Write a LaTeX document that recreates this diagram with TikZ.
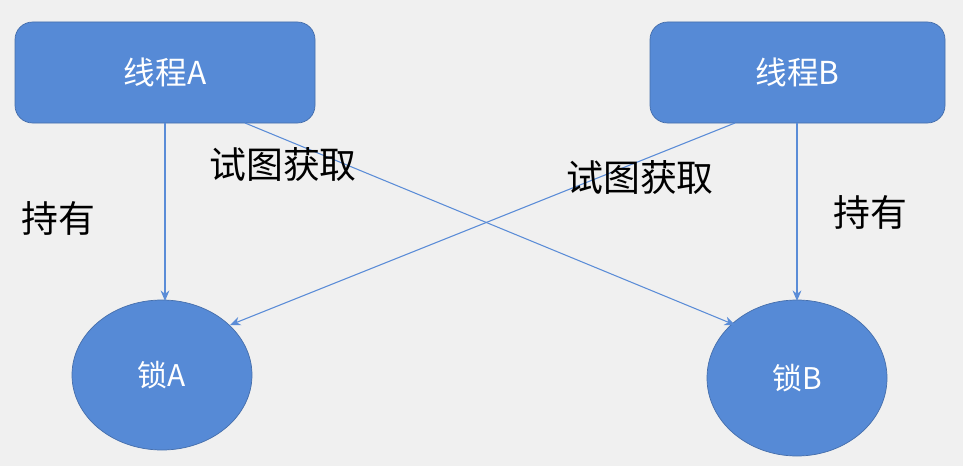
\documentclass[tikz,border=0pt]{standalone}
\usepackage{fontspec}
\usetikzlibrary{shapes.geometric,arrows.meta}
\newfontfamily\cjk{Noto Sans CJK SC}
\definecolor{bx}{RGB}{86,138,214}
\definecolor{bg}{RGB}{240,240,240}
\definecolor{ln}{RGB}{90,140,215}
\begin{document}
\begin{tikzpicture}[x=0.02cm,y=-0.02cm,
  box/.style={draw=bx!80!black,fill=bx,rounded corners=10pt,text=white,font=\cjk\fontsize{18}{21}\selectfont,inner sep=0pt},
  lock/.style={ellipse,draw=bx!80!black,fill=bx,text=white,font=\cjk\fontsize{17}{20}\selectfont,inner sep=0pt},
  lbl/.style={font=\cjk\fontsize{21}{24}\selectfont,text=black},
  arr/.style={draw=ln,-{Stealth[length=6pt,width=5pt]},line width=0.6pt}]
\fill[bg] (0,0) rectangle (963,466);
\useasboundingbox (0,0) rectangle (963,466);
\node[box,minimum width=300*0.02cm,minimum height=101*0.02cm] (ta) at (165,72.5) {线程A};
\node[box,minimum width=295*0.02cm,minimum height=101*0.02cm] (tb) at (797.5,72.5) {线程B};
\node[lock,minimum width=180*0.02cm,minimum height=150*0.02cm] (la) at (162,375) {锁A};
\node[lock,minimum width=180*0.02cm,minimum height=156*0.02cm] (lb) at (797,378) {锁B};
\coordinate (a1) at (165,123); \coordinate (a2) at (165,301);
\coordinate (b1) at (797,123); \coordinate (b2) at (797,301);
\coordinate (a3) at (245,123); \coordinate (b3) at (735,325);
\coordinate (b4) at (735,123); \coordinate (a4) at (230,325);
\draw[arr] (a1) -- (a2);
\draw[arr] (b1) -- (b2);
\draw[arr] (a3) -- (b3);
\draw[arr] (b4) -- (a4);
\node[lbl] (h1) at (58,218) {持有};
\node[lbl] (t1) at (283,165) {试图获取};
\node[lbl] (t2) at (640,178) {试图获取};
\node[lbl] (h2) at (870,212) {持有};
\end{tikzpicture}
\end{document}
